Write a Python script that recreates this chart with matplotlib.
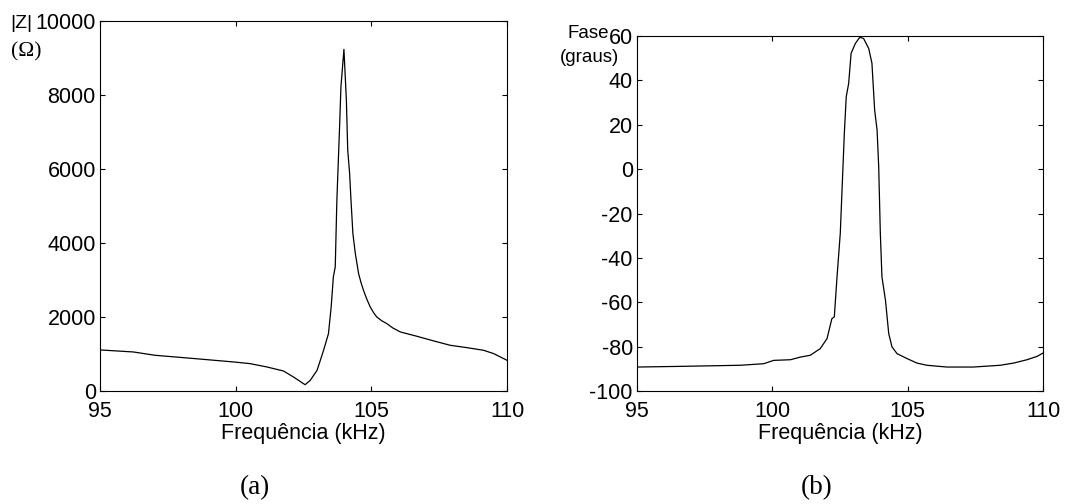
import matplotlib
matplotlib.use("Agg")
import matplotlib.pyplot as plt

# |Z| (Ohm) vs frequency (kHz)
freq_z = [95.0, 96.23, 97.03, 98.07, 98.93, 99.92, 100.53, 101.15, 101.76, 102.13,
          102.5, 102.56, 102.75, 103.0, 103.24, 103.42, 103.52, 103.6, 103.67, 103.73,
          103.83, 103.88, 103.99, 104.08, 104.13, 104.2, 104.25, 104.32, 104.41, 104.53,
          104.62, 104.71, 104.84, 104.96, 105.08, 105.2, 105.38, 105.57, 105.8, 106.07,
          106.68, 107.3, 107.91, 108.52, 109.14, 109.51, 110.0]
z_mag = [1110, 1055, 965, 902, 848, 785, 740, 650, 541, 379,
         198, 171, 289, 559, 1100, 1551, 2272, 3084, 3354, 5158,
         7141, 8224, 9233, 7863, 6510, 5879, 5158, 4256, 3715, 3174,
         2930, 2723, 2470, 2272, 2120, 2002, 1900, 1821, 1700, 1596,
         1479, 1353, 1235, 1172, 1100, 1010, 830]

# phase (degrees) vs frequency (kHz)
freq_ph = [95.0, 96.6, 98.82, 99.68, 100.05, 100.67, 101.04, 101.4, 101.77, 102.02,
           102.2, 102.29, 102.39, 102.51, 102.57, 102.66, 102.73, 102.82, 102.91, 103.07,
           103.23, 103.37, 103.56, 103.68, 103.78, 103.87, 103.93, 103.99, 104.05, 104.18,
           104.3, 104.42, 104.61, 104.98, 105.34, 105.71, 106.45, 107.43, 108.42, 108.92,
           109.41, 109.78, 110.0]
phase = [-89.2, -88.9, -88.4, -87.7, -86.2, -85.9, -84.7, -83.9, -80.9, -76.4,
         -67.4, -66.6, -48.6, -29.0, -11.0, 16.1, 32.6, 38.6, 52.2, 56.7,
         59.4, 58.9, 54.4, 47.7, 26.6, 17.6, 1.1, -29.0, -48.6, -59.1,
         -74.1, -80.1, -83.2, -85.4, -87.4, -88.4, -89.2, -89.2, -88.4, -87.4,
         -85.9, -84.4, -82.9]

x_ticks = [95, 100, 105, 110]
z_ticks = [0, 2000, 4000, 6000, 8000, 10000]
ph_ticks = [-100, -80, -60, -40, -20, 0, 20, 40, 60]

plt.rcParams['font.family'] = ['Liberation Sans', 'DejaVu Sans']
plt.rcParams['axes.unicode_minus'] = False

W, H = 1090, 504
fig = plt.figure(figsize=(W / 100, H / 100), dpi=100)


def px_axes(x0, y0, x1, y1):
    return fig.add_axes([x0 / W, 1 - y1 / H, (x1 - x0) / W, (y1 - y0) / H])


def style(ax):
    ax.tick_params(direction="in", length=3.5, width=0.8, labelsize=15.5,
                   top=True, right=True, pad=3)
    ax.tick_params(axis="x", pad=7)
    for s in ax.spines.values():
        s.set_linewidth(0.8)
    ax.set_xlabel("Frequência (kHz)", fontsize=15.5, labelpad=1)


# (a) impedance magnitude
ax1 = px_axes(100, 21, 507, 391)
ax1.plot(freq_z, z_mag, color="black", linewidth=0.9)
ax1.set_xlim(95, 110)
ax1.set_ylim(0, 10000)
ax1.set_xticks(x_ticks)
ax1.set_yticks(z_ticks)
style(ax1)
fig.text(10 / W, 1 - 24 / H, "|Z|", fontsize=14, va="center", ha="left")
fig.text(11 / W, 1 - 52 / H, "(Ω)", fontsize=15.5, va="center", ha="left",
         family="Liberation Serif")
fig.text(255 / W, 1 - 488 / H, "(a)", fontsize=19.5, va="center", ha="center",
         family="Liberation Serif")

# (b) phase
ax2 = px_axes(637, 36, 1043, 391)
ax2.plot(freq_ph, phase, color="black", linewidth=0.9)
ax2.set_xlim(95, 110)
ax2.set_ylim(-100, 60)
ax2.set_xticks(x_ticks)
ax2.set_yticks(ph_ticks)
style(ax2)
fig.text(609 / W, 1 - 33 / H, "Fase", fontsize=13.5, va="center", ha="right")
fig.text(619 / W, 1 - 58 / H, "(graus)", fontsize=13.5, va="center", ha="right")
fig.text(817 / W, 1 - 488 / H, "(b)", fontsize=19.5, va="center", ha="center",
         family="Liberation Serif")

fig.savefig("out.png", dpi=100)
plt.close(fig)
